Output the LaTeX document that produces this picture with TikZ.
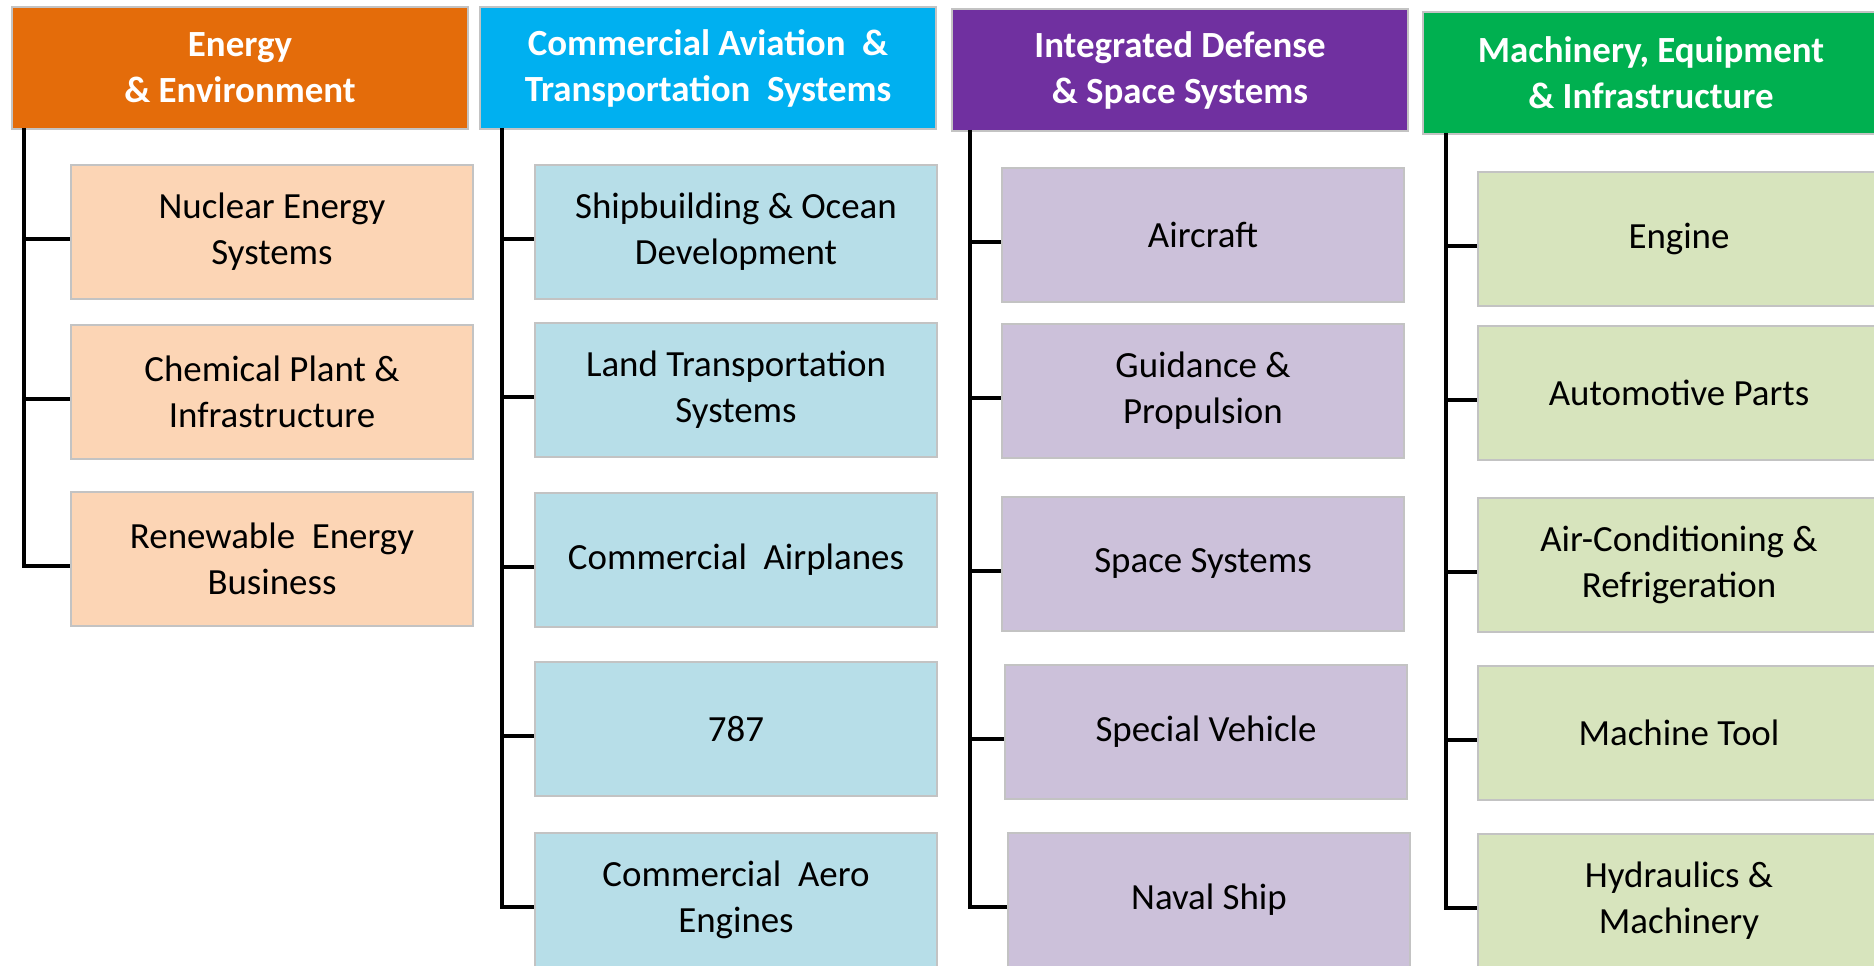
\documentclass[tikz,border=0pt]{standalone}
\usepackage{fontspec}
\setmainfont{Carlito}
\usepackage[dvipsnames]{xcolor}
\definecolor{EEcolor}{HTML}{E46C0A}
\definecolor{CAcolor}{HTML}{00B0F0}
\definecolor{DScolor}{HTML}{7030A0}
\definecolor{MEcolor}{HTML}{00B050}
\definecolor{EElight}{HTML}{FCD5B5}
\definecolor{CAlight}{HTML}{B7DEE8}
\definecolor{DSlight}{HTML}{CCC1DA}
\definecolor{MElight}{HTML}{D7E4BD}
\definecolor{BORDERcolor}{HTML}{C3C3C3}
\usepackage{tikz}

\begin{document}
\begin{tikzpicture}[x=0.02cm, y=-0.02cm]

    \tikzset{%
        head/.style={%
                fill=#1, draw=BORDERcolor, line width=1.2pt, text=white,
                font=\fontsize{21}{26.2}\selectfont\bfseries, align=center,
                minimum width=9.12cm, minimum height=2.44cm, inner sep=0pt
            },
        unit/.style={%
                fill=#1, draw=BORDERcolor, line width=1.2pt, text=black,
                font=\fontsize{21}{26.2}\selectfont, align=center,
                minimum width=8.04cm, minimum height=2.68cm, inner sep=0pt
            },
        link/.style={draw=black, line width=2.3pt}
    }

    \useasboundingbox (0, 0) rectangle (1874, 966);
    \clip (0, 0) rectangle (1874, 966);

    \node [head=EEcolor] (h1) at (240, 68) {Energy\\\& Environment};
    \node [head=CAcolor] (h2) at (708, 68) {Commercial Aviation~~\&\\Transportation~~Systems};
    \node [head=DScolor] (h3) at (1180, 70) {Integrated Defense\\\& Space Systems};
    \node [head=MEcolor] (h4) at (1651, 73) {Machinery, Equipment\\\& Infrastructure};

    \node [unit=EElight] (n11) at (272, 232) {Nuclear Energy\\Systems};
    \node [unit=EElight] (n12) at (272, 392) {Chemical Plant \&\\Infrastructure};
    \node [unit=EElight] (n13) at (272, 559) {Renewable~~Energy\\Business};

    \node [unit=CAlight] (n21) at (736, 232) {Shipbuilding \& Ocean\\Development};
    \node [unit=CAlight] (n22) at (736, 390) {Land Transportation\\Systems};
    \node [unit=CAlight] (n23) at (736, 560) {Commercial~~Airplanes};
    \node [unit=CAlight] (n24) at (736, 729) {787};
    \node [unit=CAlight] (n25) at (736, 900) {Commercial~~Aero\\Engines};

    \node [unit=DSlight] (n31) at (1203, 235) {Aircraft};
    \node [unit=DSlight] (n32) at (1203, 391) {Guidance \&\\Propulsion};
    \node [unit=DSlight] (n33) at (1203, 564) {Space Systems};
    \node [unit=DSlight] (n34) at (1206, 732) {Special Vehicle};
    \node [unit=DSlight] (n35) at (1209, 900) {Naval Ship};

    \node [unit=MElight] (n41) at (1679, 239) {Engine};
    \node [unit=MElight] (n42) at (1679, 393) {Automotive Parts};
    \node [unit=MElight] (n43) at (1679, 565) {Air-Conditioning \&\\Refrigeration};
    \node [unit=MElight] (n44) at (1679, 733) {Machine Tool};
    \node [unit=MElight] (n45) at (1679, 901) {Hydraulics \&\\Machinery};

    \coordinate (t1) at (24, 128);
    \coordinate (t2) at (502, 128);
    \coordinate (t3) at (970, 130);
    \coordinate (t4) at (1446, 133);

    \foreach \c/\last in {1/3, 2/5, 3/5, 4/5} {%
            \draw [link] (t\c) |- ([yshift=-0.14cm]n\c\last.west);
            \foreach \r in {1, ..., \last} {%
                    \draw [link] ([yshift=-0.14cm]t\c |- n\c\r.west) -- ([yshift=-0.14cm]n\c\r.west);
                }
        }

\end{tikzpicture}
\end{document}
